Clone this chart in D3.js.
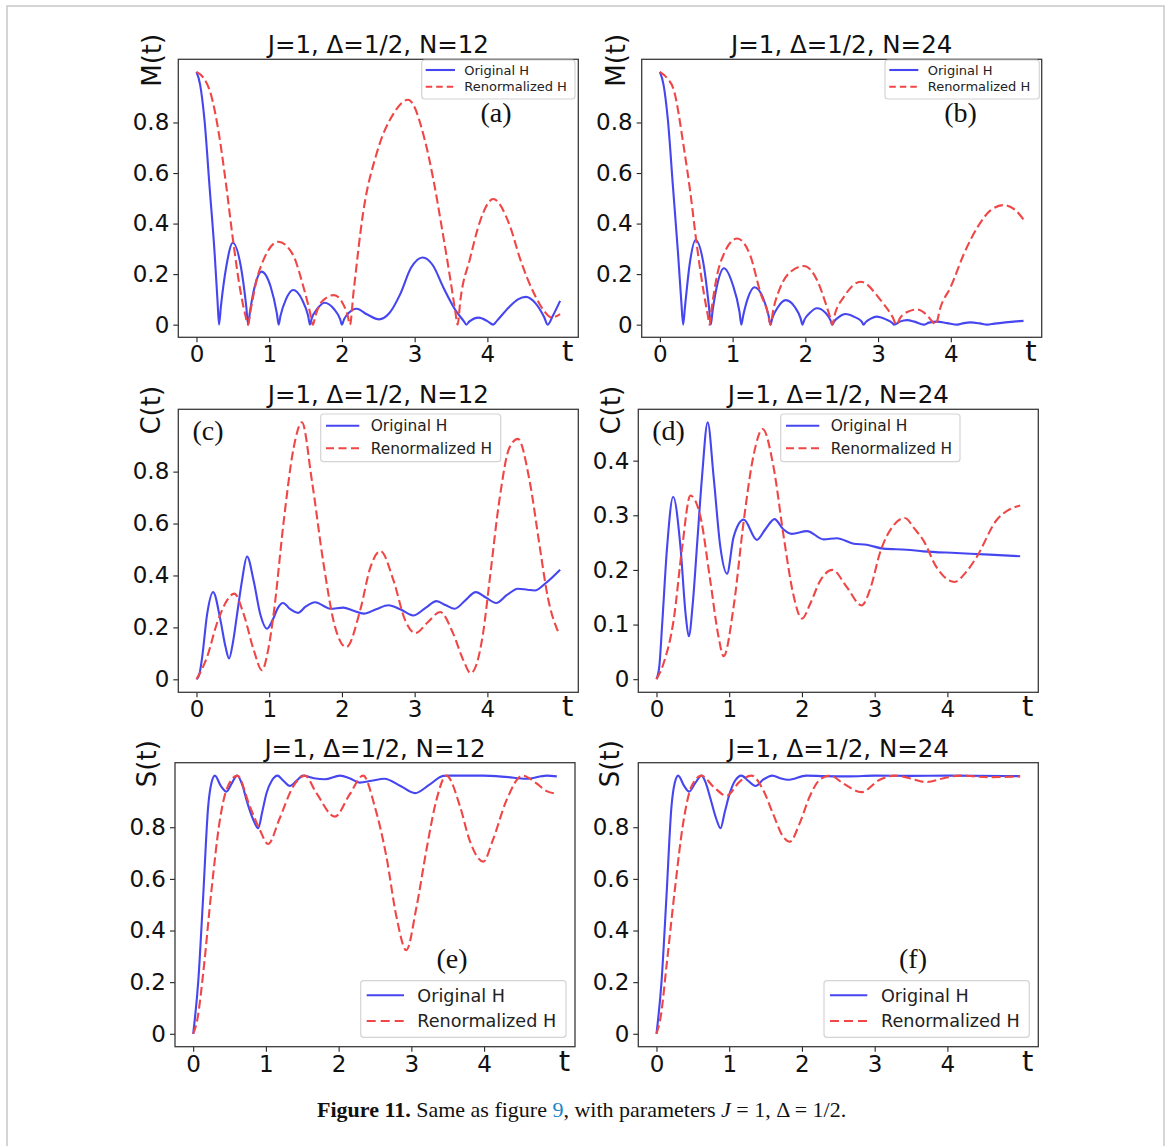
<!DOCTYPE html>
<html><head><meta charset="utf-8">
<script src="https://cdn.jsdelivr.net/npm/d3@7"></script>
<style>body{margin:0;background:#fff} svg{display:block}</style>
</head><body>
<svg id="fig" width="1170" height="1146"></svg>
<script>
// ---------------- data ----------------
const xTicks = [0, 1, 2, 3, 4];
const yTicksUnit = [0, 0.2, 0.4, 0.6, 0.8];
const yTicksC24 = [0, 0.1, 0.2, 0.3, 0.4];
const titles = ["J=1, Δ=1/2, N=12", "J=1, Δ=1/2, N=24"];
const yLabels = ["M(t)", "C(t)", "S(t)"];
const seriesNames = ["Original H", "Renormalized H"];
const panelTags = ["(a)", "(b)", "(c)", "(d)", "(e)", "(f)"];

// M(t), N=12
const mOrig12 = [[0,1.0],[0.05,0.95],[0.11,0.81],[0.18,0.545],[0.25,0.28],[0.29,0.09],[0.31,0],
 [0.335,0.07],[0.41,0.23],[0.5,0.324],[0.61,0.23],[0.685,0.07],[0.71,0],
 [0.735,0.05],[0.8,0.15],[0.895,0.21],[1.02,0.15],[1.105,0.045],[1.13,0],
 [1.155,0.035],[1.23,0.1],[1.33,0.137],[1.45,0.1],[1.535,0.035],[1.56,0],
 [1.585,0.025],[1.66,0.062],[1.76,0.087],[1.89,0.062],[1.975,0.022],[2.0,0],
 [2.03,0.022],[2.1,0.048],[2.2,0.063],[2.35,0.04],[2.51,0.021],[2.65,0.045],[2.8,0.12],[2.95,0.225],[3.11,0.266],[3.25,0.235],[3.39,0.15],[3.56,0.058],[3.68,0.012],[3.71,0],
 [3.75,0.012],[3.88,0.028],[4.0,0.014],[4.08,0],[4.13,0.015],[4.3,0.07],[4.42,0.1],[4.53,0.11],[4.66,0.085],[4.78,0.03],[4.83,0],[4.9,0.035],[5.0,0.094]];
const mRen12 = [[0,1.0],[0.1,0.975],[0.2,0.91],[0.3,0.77],[0.4,0.57],[0.5,0.34],[0.6,0.14],[0.67,0.04],[0.71,0],
 [0.74,0.05],[0.83,0.18],[0.92,0.255],[1.124,0.328],[1.32,0.28],[1.47,0.15],[1.56,0.05],[1.6,0],
 [1.635,0.035],[1.72,0.09],[1.89,0.117],[2.0,0.09],[2.08,0.035],[2.11,0],
 [2.16,0.13],[2.29,0.44],[2.48,0.68],[2.71,0.835],[2.91,0.89],[3.14,0.73],[3.26,0.57],[3.37,0.39],[3.49,0.18],[3.56,0.05],[3.59,0],
 [3.63,0.1],[3.76,0.26],[3.9,0.41],[4.08,0.497],[4.31,0.39],[4.45,0.26],[4.64,0.124],[4.77,0.058],[4.88,0.028],[5.0,0.042]];
// M(t), N=24
const mOrig24 = [[0,1.0],[0.05,0.95],[0.11,0.81],[0.18,0.545],[0.25,0.28],[0.295,0.09],[0.32,0],
 [0.345,0.07],[0.41,0.24],[0.49,0.335],[0.6,0.24],[0.675,0.07],[0.7,0],
 [0.725,0.055],[0.79,0.16],[0.88,0.223],[1.0,0.16],[1.095,0.05],[1.12,0],
 [1.145,0.035],[1.21,0.105],[1.3,0.148],[1.42,0.105],[1.495,0.035],[1.52,0],
 [1.545,0.025],[1.62,0.068],[1.73,0.097],[1.86,0.068],[1.935,0.025],[1.96,0],
 [1.985,0.018],[2.06,0.046],[2.16,0.065],[2.28,0.046],[2.345,0.018],[2.37,0],
 [2.395,0.012],[2.46,0.03],[2.55,0.042],[2.68,0.03],[2.775,0.012],[2.8,0],
 [2.83,0.01],[2.9,0.024],[2.98,0.032],[3.1,0.022],[3.2,0.006],[3.22,0],
 [3.3,0.012],[3.4,0.018],[3.5,0.012],[3.63,0],[3.7,0.008],[3.81,0.012],[3.95,0.006],[4.09,0],[4.18,0.006],[4.27,0.009],[4.4,0.005],[4.5,0],[4.6,0.004],[4.75,0.009],[4.9,0.013],[5.0,0.015]];
const mRen24 = [[0,1.0],[0.1,0.975],[0.19,0.93],[0.33,0.70],[0.42,0.52],[0.51,0.31],[0.605,0.124],[0.66,0.035],[0.683,0],
 [0.71,0.06],[0.79,0.2],[0.88,0.28],[1.064,0.341],[1.247,0.27],[1.385,0.124],[1.49,0.04],[1.52,0],
 [1.56,0.06],[1.66,0.15],[1.8,0.21],[1.98,0.232],[2.16,0.177],[2.28,0.084],[2.345,0.025],[2.37,0],
 [2.41,0.045],[2.53,0.11],[2.76,0.17],[3.035,0.097],[3.2,0.03],[3.255,0],
 [3.3,0.025],[3.4,0.05],[3.54,0.06],[3.68,0.035],[3.76,0.008],[3.79,0],
 [3.86,0.07],[4.0,0.15],[4.18,0.28],[4.37,0.387],[4.55,0.453],[4.73,0.473],[4.88,0.455],[5.0,0.416]];
// C(t), N=12
const cOrig12 = [[0,0],[0.04,0.02],[0.078,0.085],[0.146,0.25],[0.229,0.336],[0.33,0.227],[0.4,0.124],[0.448,0.08],[0.5,0.14],[0.558,0.25],[0.626,0.38],[0.695,0.473],[0.786,0.38],[0.878,0.25],[0.97,0.195],
 [1.05,0.23],[1.12,0.275],[1.19,0.294],[1.29,0.27],[1.395,0.256],[1.5,0.28],[1.63,0.297],[1.84,0.272],[2.02,0.276],[2.15,0.265],[2.3,0.253],[2.47,0.27],[2.64,0.285],[2.8,0.27],[2.98,0.246],[3.15,0.275],[3.3,0.301],[3.43,0.285],[3.55,0.272],[3.7,0.305],[3.84,0.336],[3.98,0.315],[4.12,0.294],[4.27,0.325],[4.42,0.349],[4.55,0.345],[4.65,0.342],[4.8,0.37],[5.0,0.422]];
const cRen12 = [[0,0],[0.146,0.086],[0.28,0.214],[0.42,0.304],[0.52,0.33],[0.65,0.25],[0.79,0.11],[0.9,0.035],[0.99,0.12],[1.06,0.25],[1.2,0.61],[1.335,0.89],[1.45,0.99],[1.587,0.765],[1.747,0.445],[1.907,0.2],[2.06,0.124],[2.25,0.265],[2.39,0.43],[2.53,0.494],[2.71,0.38],[2.87,0.227],[3.01,0.178],[3.18,0.22],[3.35,0.259],[3.53,0.176],[3.67,0.073],[3.77,0.024],[3.94,0.176],[4.03,0.38],[4.17,0.70],[4.3,0.89],[4.42,0.926],[4.58,0.765],[4.72,0.51],[4.83,0.317],[4.98,0.178]];
// C(t), N=24
const cOrig24 = [[0,0],[0.04,0.025],[0.078,0.1],[0.146,0.242],[0.229,0.334],[0.33,0.242],[0.4,0.12],[0.444,0.0785],[0.5,0.14],[0.56,0.25],[0.626,0.37],[0.704,0.47],[0.786,0.37],[0.878,0.242],[0.97,0.193],[1.06,0.26],[1.2,0.292],[1.38,0.255],[1.5,0.275],[1.623,0.293],[1.74,0.275],[1.86,0.266],[2.07,0.271],[2.3,0.256],[2.48,0.258],[2.71,0.248],[2.89,0.246],[3.12,0.239],[3.44,0.237],[3.67,0.234],[4.12,0.231],[4.58,0.228],[5.0,0.225]];
const cRen24 = [[0,0],[0.1,0.03],[0.238,0.11],[0.352,0.24],[0.466,0.336],[0.6,0.3],[0.74,0.18],[0.85,0.08],[0.924,0.042],[1.06,0.132],[1.2,0.29],[1.335,0.41],[1.46,0.458],[1.61,0.388],[1.75,0.26],[1.88,0.156],[2.0,0.111],[2.12,0.14],[2.25,0.18],[2.42,0.2],[2.615,0.169],[2.82,0.135],[2.95,0.17],[3.07,0.23],[3.25,0.28],[3.415,0.295],[3.55,0.275],[3.67,0.254],[3.85,0.205],[4.1,0.178],[4.25,0.195],[4.4,0.223],[4.67,0.29],[5.0,0.318]];
// S(t), N=12
const sOrig12 = [[0,0],[0.069,0.2],[0.137,0.53],[0.206,0.88],[0.25,0.97],[0.298,1.0],[0.38,0.96],[0.458,0.938],[0.53,0.97],[0.605,1.0],[0.68,0.96],[0.733,0.906],[0.825,0.83],[0.893,0.796],[0.95,0.86],[1.008,0.932],[1.08,0.98],[1.16,1.0],[1.24,0.98],[1.33,0.96],[1.42,0.98],[1.51,1.0],[1.66,0.99],[1.81,0.986],[2.02,1.0],[2.15,0.99],[2.29,0.973],[2.45,0.98],[2.63,0.988],[2.85,0.96],[3.05,0.932],[3.25,0.965],[3.44,0.999],[3.53,1.0],[3.98,1.0],[4.3,0.995],[4.58,0.988],[4.86,1.0],[5.0,0.997]];
const sRen12 = [[0,0],[0.06,0.06],[0.137,0.233],[0.252,0.557],[0.367,0.828],[0.458,0.945],[0.605,1.0],[0.78,0.88],[0.916,0.79],[1.03,0.735],[1.19,0.835],[1.375,0.958],[1.535,1.0],[1.695,0.932],[1.947,0.841],[2.15,0.926],[2.337,1.0],[2.497,0.88],[2.657,0.686],[2.795,0.453],[2.93,0.324],[3.07,0.49],[3.207,0.712],[3.345,0.906],[3.48,1.0],[3.67,0.88],[3.8,0.75],[3.99,0.667],[4.12,0.75],[4.31,0.906],[4.53,1.0],[4.72,0.97],[4.86,0.94],[5.0,0.93]];
// S(t), N=24
const sOrig24 = [[0,0],[0.069,0.2],[0.137,0.53],[0.206,0.88],[0.25,0.97],[0.298,1.0],[0.38,0.96],[0.449,0.938],[0.53,0.97],[0.619,1.0],[0.68,0.97],[0.733,0.92],[0.825,0.83],[0.88,0.796],[0.94,0.86],[1.008,0.932],[1.08,0.98],[1.168,1.0],[1.26,0.98],[1.36,0.96],[1.47,0.985],[1.594,1.0],[1.7,0.99],[1.81,0.984],[2.06,1.0],[2.3,0.998],[2.66,0.997],[3.0,1.0],[3.5,0.999],[4.0,1.0],[5.0,0.998]];
const sRen24 = [[0,0],[0.06,0.07],[0.137,0.26],[0.252,0.557],[0.367,0.816],[0.481,0.958],[0.619,1.0],[0.78,0.958],[0.962,0.922],[1.145,0.977],[1.306,1.0],[1.466,0.945],[1.6,0.854],[1.74,0.764],[1.833,0.744],[1.97,0.816],[2.108,0.92],[2.245,0.984],[2.39,1.0],[2.566,0.97],[2.818,0.936],[3.07,0.984],[3.276,1.0],[3.48,0.99],[3.71,0.975],[3.95,0.99],[4.17,1.0],[4.58,0.994],[5.0,0.997]];

// ---------------- layout ----------------
const BLUE = "#4646f0", RED = "#f04646";
const FONT = "DejaVu Sans, Verdana, sans-serif";
const SERIF = "Liberation Serif, Times New Roman, serif";

const panels = [
  {tag:0, title:0, ylab:0, orig:mOrig12, ren:mRen12, box:[178.3,59.3,578.3,337.3], ydom:[-0.05,1.05], yt:yTicksUnit, ylx:17, tagPos:[496,122],
   leg:{box:[421.7,60,575,99], rows:[70,86.7], line:[425.7,455], tx:464.3, fs:13, dash:"6.5,4"}},
  {tag:1, title:1, ylab:0, orig:mOrig24, ren:mRen24, box:[641.7,59.3,1041.7,337.3], ydom:[-0.05,1.05], yt:yTicksUnit, ylx:17, tagPos:[960.5,122],
   leg:{box:[885,60,1039.3,99], rows:[70,86.7], line:[889.3,918.3], tx:927.7, fs:13, dash:"6.5,4"}},
  {tag:2, title:0, ylab:1, orig:cOrig12, ren:cRen12, box:[178.3,409.3,578.3,692.3], ydom:[-0.05,1.04], yt:yTicksUnit, ylx:18, tagPos:[208,440],
   leg:{box:[320.7,414,500.7,461.7], rows:[425.7,448.3], line:[326,359.3], tx:370.7, fs:15.4, dash:"8,4.5"}},
  {tag:3, title:1, ylab:1, orig:cOrig24, ren:cRen24, box:[638.3,409.3,1038.3,692.3], ydom:[-0.024,0.494], yt:yTicksC24, ylx:18, tagPos:[668.5,440],
   leg:{box:[780.7,414,960,461.7], rows:[425.7,448.3], line:[786,819.3], tx:830.7, fs:15.4, dash:"8,4.5"}},
  {tag:4, title:0, ylab:2, orig:sOrig12, ren:sRen12, box:[175,762.7,575,1046.7], ydom:[-0.05,1.05], yt:yTicksUnit, ylx:19, tagPos:[452,968],
   leg:{box:[360.7,980.7,566,1037.3], rows:[995.3,1021], line:[366.7,404], tx:417.3, fs:17.6, dash:"9,5"}},
  {tag:5, title:1, ylab:2, orig:sOrig24, ren:sRen24, box:[638.3,762.7,1038.3,1046.7], ydom:[-0.05,1.05], yt:yTicksUnit, ylx:19, tagPos:[913,968],
   leg:{box:[824,980.7,1029.3,1037.3], rows:[995.3,1021], line:[830,867.3], tx:881, fs:17.6, dash:"9,5"}}
];

const svg = d3.select("#fig");
svg.append("rect").attr("x",0).attr("y",0).attr("width",1170).attr("height",1146).attr("fill","#fff");
svg.append("rect").attr("x",7).attr("y",6).attr("width",1157).attr("height",1170)
  .attr("fill","none").attr("stroke","#c8c8c8").attr("stroke-width",1.5);

const yFmt = d => d === 0 ? "0" : d3.format(".1f")(d);

panels.forEach(p => {
  const [L,T,R,B] = p.box;
  const g = svg.append("g");
  const x = d3.scaleLinear().domain([-0.25, 5.25]).range([L, R]);
  const y = d3.scaleLinear().domain(p.ydom).range([B, T]);
  const line = d3.line().x(d => x(d[0])).y(d => y(d[1])).curve(d3.curveMonotoneX);

  g.append("path").datum(p.orig).attr("d", line).attr("fill","none")
    .attr("stroke", BLUE).attr("stroke-width", 2.1).attr("stroke-linejoin","round");
  g.append("path").datum(p.ren).attr("d", line).attr("fill","none")
    .attr("stroke", RED).attr("stroke-width", 2.1).attr("stroke-dasharray","9,4");

  // x axis
  const xa = g.append("g").attr("transform", `translate(0,${B})`)
    .call(d3.axisBottom(x).tickValues(xTicks).tickSize(5).tickPadding(3.5).tickFormat(d3.format("d")));
  xa.select(".domain").remove();
  xa.attr("font-family", FONT).attr("font-size", 23);
  xa.selectAll("line").attr("stroke","#222").attr("stroke-width",1.1);
  xa.selectAll("text").attr("fill","#111");

  // y axis
  const ya = g.append("g").attr("transform", `translate(${L},0)`)
    .call(d3.axisLeft(y).tickValues(p.yt).tickSize(5).tickPadding(4).tickFormat(yFmt));
  ya.select(".domain").remove();
  ya.attr("font-family", FONT).attr("font-size", 23);
  ya.selectAll("line").attr("stroke","#222").attr("stroke-width",1.1);
  ya.selectAll("text").attr("fill","#111");

  // frame
  g.append("rect").attr("x",L).attr("y",T).attr("width",R-L).attr("height",B-T)
    .attr("fill","none").attr("stroke","#3a3a3a").attr("stroke-width",1.3);

  // title
  g.append("text").attr("x",(L+R)/2).attr("y",T-6).attr("text-anchor","middle")
    .attr("font-family",FONT).attr("font-size",24.5).attr("fill","#111").text(titles[p.title]);
  // y label
  g.append("text").attr("transform",`translate(${L-p.ylx},${T+1}) rotate(-90)`).attr("text-anchor","middle")
    .attr("font-family",FONT).attr("font-size",26).attr("fill","#111").text(yLabels[p.ylab]);
  // x label
  g.append("text").attr("x",R-5).attr("y",B+24).attr("text-anchor","end")
    .attr("font-family",FONT).attr("font-size",29).attr("fill","#111").text("t");
  // panel tag
  g.append("text").attr("x",p.tagPos[0]).attr("y",p.tagPos[1]).attr("text-anchor","middle")
    .attr("font-family",SERIF).attr("font-size",28).attr("fill","#111").text(panelTags[p.tag]);

  // legend
  const lg = p.leg;
  const lgG = g.append("g");
  lgG.append("rect").attr("x",lg.box[0]).attr("y",lg.box[1]).attr("width",lg.box[2]-lg.box[0]).attr("height",lg.box[3]-lg.box[1])
    .attr("rx",3).attr("fill","#fff").attr("fill-opacity",0.85).attr("stroke","#d4d4d4").attr("stroke-width",1.2);
  [[BLUE,null],[RED,lg.dash]].forEach((s,i) => {
    lgG.append("line").attr("x1",lg.line[0]).attr("x2",lg.line[1]).attr("y1",lg.rows[i]).attr("y2",lg.rows[i])
      .attr("stroke",s[0]).attr("stroke-width",2.1).attr("stroke-dasharray",s[1]);
    lgG.append("text").attr("x",lg.tx).attr("y",lg.rows[i]).attr("dy","0.36em")
      .attr("font-family",FONT).attr("font-size",lg.fs).attr("fill","#222").text(seriesNames[i]);
  });
});

// caption
const cap = svg.append("text").attr("x",317).attr("y",1116.7).attr("font-family",SERIF).attr("font-size",22).attr("fill","#111");
cap.append("tspan").attr("font-weight","bold").text("Figure 11.");
cap.append("tspan").text(" Same as figure ");
cap.append("tspan").attr("fill","#1a86c8").text("9");
cap.append("tspan").text(", with parameters ");
cap.append("tspan").attr("font-style","italic").text("J");
cap.append("tspan").text(" = 1, Δ = 1/2.");
</script>
</body></html>
